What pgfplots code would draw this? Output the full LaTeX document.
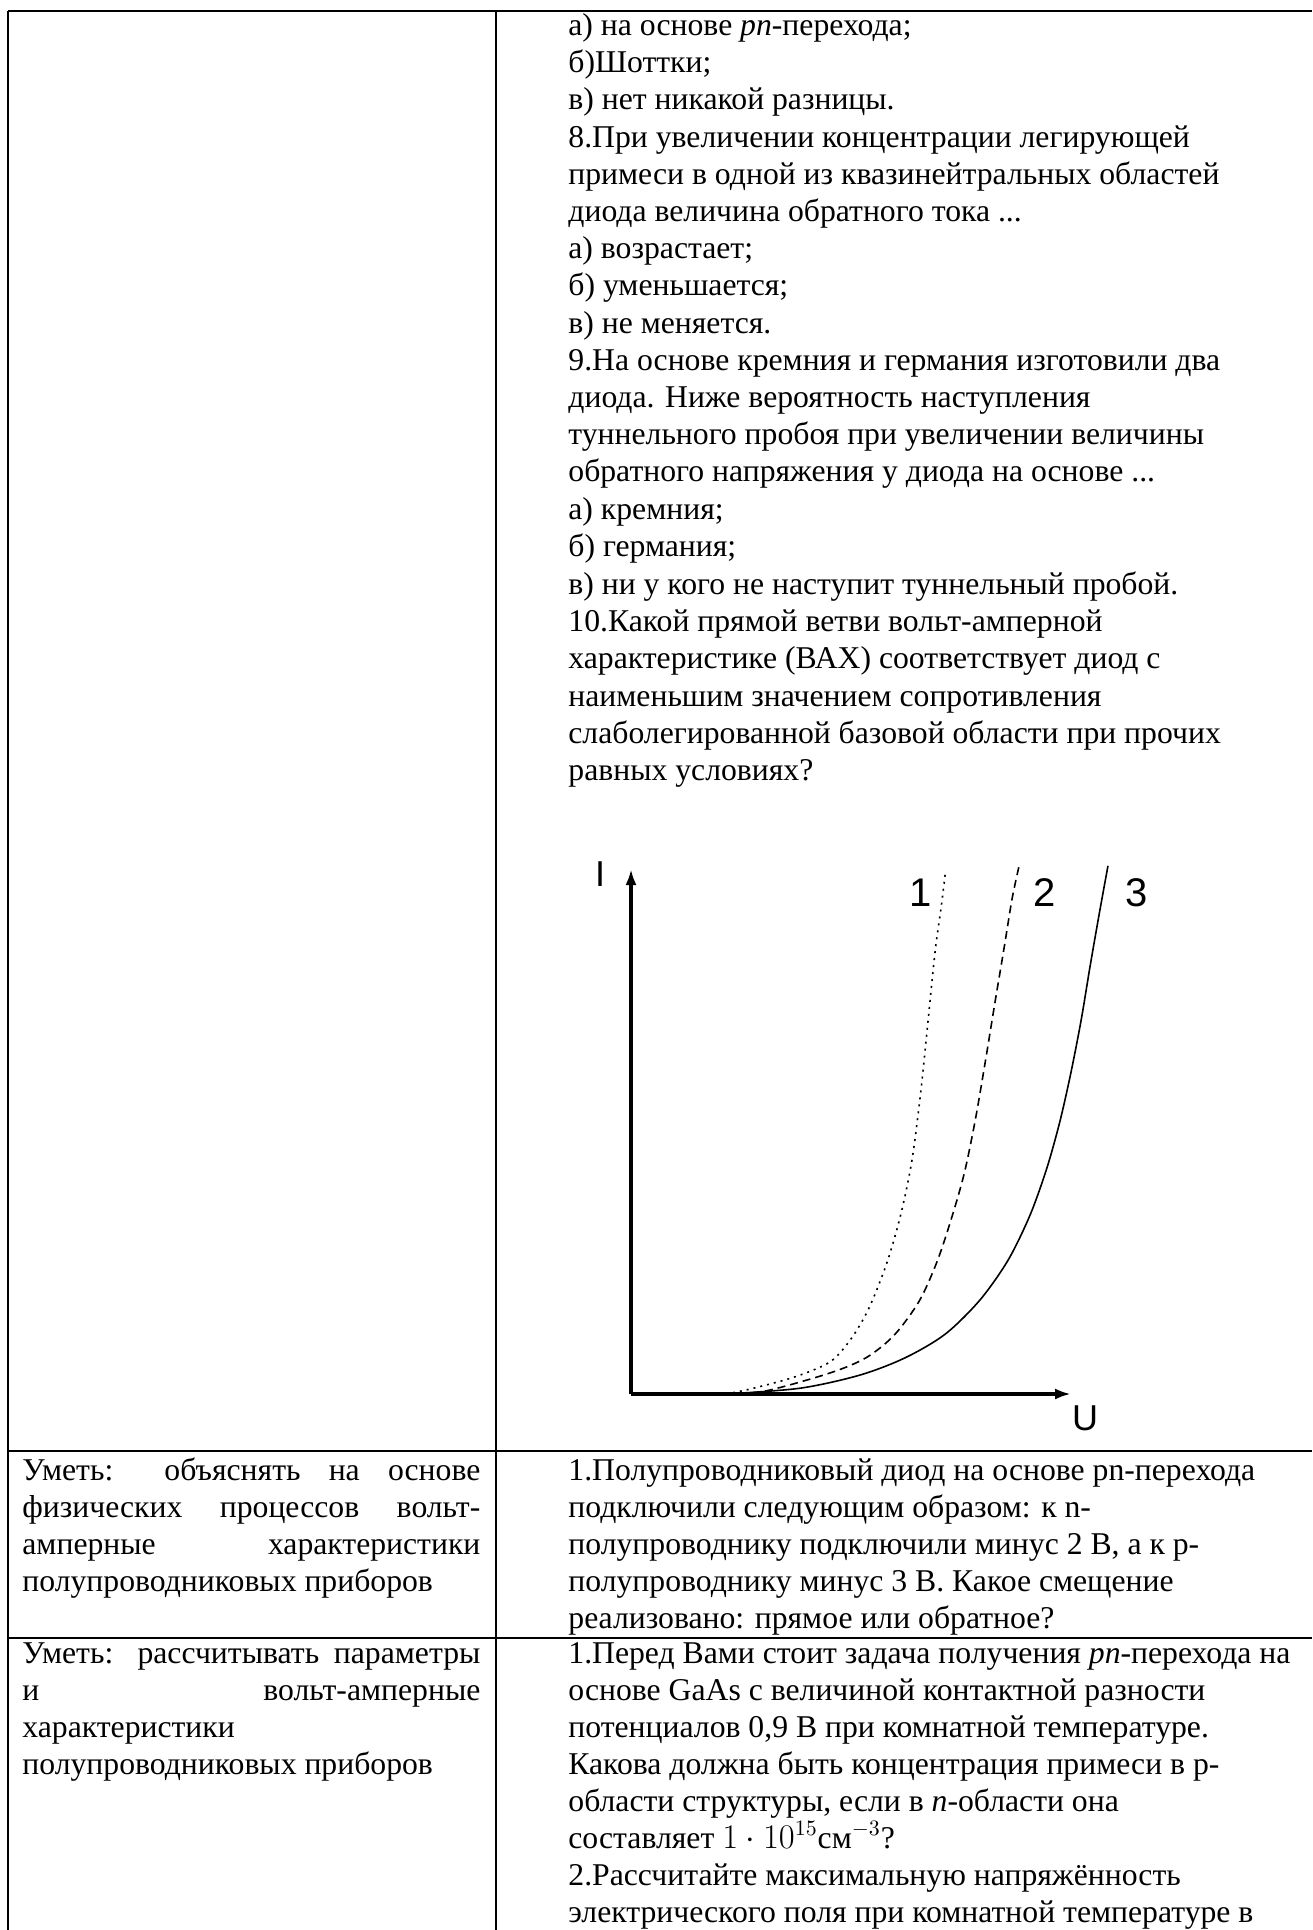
\documentclass[border=0pt]{standalone}
\usepackage{pgfplots}
\pgfplotsset{compat=1.18}
\usepackage{fontspec}
\setmainfont{Liberation Serif}
\newfontfamily\arial{Liberation Sans}
\usetikzlibrary{arrows.meta}

\begin{document}
\begin{tikzpicture}[
    txt/.style={anchor=base west, inner sep=0pt, font=\fontsize{15.85}{19}\selectfont},
    lab/.style={anchor=base, inner sep=0pt},
    rule/.style={line width=0.9pt}]
\begin{scope}[x=0.5pt, y=-0.5pt]
  \clip (0,0) rectangle (1312,1930);
  % table rules
  \draw[rule] (8,11) -- (1312,11);
  \draw[rule] (8,1451) -- (1312,1451);
  \draw[rule] (8,1638) -- (1312,1638);
  \draw[rule] (8,11) -- (8,1930);
  \draw[rule] (496,11) -- (496,1930);

  % row 1, right column
  \node[txt] at (568,36)  {а) на основе \textit{pn}-перехода;};
  \node[txt] at (568,73)  {б)Шоттки;};
  \node[txt] at (568,110) {в) нет никакой разницы.};
  \node[txt] at (568,148) {8.При увеличении концентрации легирующей};
  \node[txt] at (568,185) {примеси в одной из квазинейтральных областей};
  \node[txt] at (568,222) {диода величина обратного тока ...};
  \node[txt] at (568,259) {а) возрастает;};
  \node[txt] at (568,296) {б) уменьшается;};
  \node[txt] at (568,334) {в) не меняется.};
  \node[txt] at (568,371) {9.На основе кремния и германия изготовили два};
  \node[txt] at (568,408) {диода. Ниже вероятность наступления};
  \node[txt] at (568,445) {туннельного пробоя при увеличении величины};
  \node[txt] at (568,482) {обратного напряжения у диода на основе ...};
  \node[txt] at (568,520) {а) кремния;};
  \node[txt] at (568,557) {б) германия;};
  \node[txt] at (568,594) {в) ни у кого не наступит туннельный пробой.};
  \node[txt] at (568,631) {10.Какой прямой ветви вольт-амперной};
  \node[txt] at (568,668) {характеристике (ВАХ) соответствует диод с};
  \node[txt] at (568,706) {наименьшим значением сопротивления};
  \node[txt] at (568,743) {слаболегированной базовой области при прочих};
  \node[txt] at (568,780) {равных условиях?};

  % row 2
  \node[txt] at (22,1480) {\makebox[229pt][s]{Уметь: объяснять на основе}};
  \node[txt] at (22,1517) {\makebox[229pt][s]{физических процессов вольт-}};
  \node[txt] at (22,1554) {\makebox[229pt][s]{амперные характеристики}};
  \node[txt] at (22,1591) {полупроводниковых приборов};
  \node[txt] at (568,1480) {1.Полупроводниковый диод на основе pn-перехода};
  \node[txt] at (568,1517) {подключили следующим образом: к n-};
  \node[txt] at (568,1554) {полупроводнику подключили минус 2 В, а к p-};
  \node[txt] at (568,1591) {полупроводнику минус 3 В. Какое смещение};
  \node[txt] at (568,1628) {реализовано: прямое или обратное?};

  % row 3
  \node[txt] at (22,1663) {\makebox[229pt][s]{Уметь: рассчитывать параметры}};
  \node[txt] at (22,1700) {\makebox[229pt][s]{и вольт-амперные}};
  \node[txt] at (22,1737) {характеристики};
  \node[txt] at (22,1774) {полупроводниковых приборов};
  \node[txt] at (568,1663) {1.Перед Вами стоит задача получения \textit{pn}-перехода на};
  \node[txt] at (568,1700) {основе GaAs с величиной контактной разности};
  \node[txt] at (568,1737) {потенциалов 0,9 В при комнатной температуре.};
  \node[txt] at (568,1774) {Какова должна быть концентрация примеси в p-};
  \node[txt] at (568,1811) {области структуры, если в \textit{n}-области она};
  \node[txt] at (568,1848) {составляет $1\cdot10^{15}$см$^{-3}$?};
  \node[txt] at (568,1885) {2.Рассчитайте максимальную напряжённость};
  \node[txt] at (568,1922) {электрического поля при комнатной температуре в};

  % chart labels
  \node[lab, font=\arial\fontsize{18}{18}\selectfont] at (600,886) {I};
  \node[lab, font=\arial\fontsize{20}{20}\selectfont] at (921,906) {1};
  \node[lab, font=\arial\fontsize{20}{20}\selectfont] at (1045,906) {2};
  \node[lab, font=\arial\fontsize{20}{20}\selectfont] at (1137,906) {3};
  \node[lab, font=\arial\fontsize{18}{18}\selectfont] at (1085,1430) {U};
\end{scope}

\begin{axis}[
    at={(315.5pt,-697pt)}, anchor=south west,
    scale only axis, width=220pt, height=262.5pt,
    xmin=0, xmax=1, ymin=0, ymax=1,
    axis lines=left,
    axis line style={line width=1.6pt, -{Latex[length=8pt,width=5.5pt]}},
    ticks=none, clip=false]
  % curve 1, dotted
  \addplot[black, line width=0.8pt, dash pattern=on 1pt off 2.5pt, smooth, tension=0.5] coordinates {
    (0.216,0) (0.273,0.010) (0.370,0.032) (0.452,0.061) (0.500,0.105)
    (0.541,0.164) (0.582,0.251) (0.614,0.345) (0.639,0.448) (0.659,0.579)
    (0.675,0.710) (0.691,0.842) (0.705,0.928) (0.714,0.990)};
  % curve 2, dashed
  \addplot[black, line width=0.8pt, dash pattern=on 4pt off 2.5pt, smooth, tension=0.5] coordinates {
    (0.216,0) (0.307,0.006) (0.452,0.040) (0.534,0.069) (0.598,0.112)
    (0.655,0.177) (0.695,0.251) (0.727,0.331) (0.757,0.419) (0.782,0.520)
    (0.805,0.632) (0.827,0.745) (0.848,0.850) (0.866,0.943) (0.882,1.006)};
  % curve 3, solid
  \addplot[black, line width=0.8pt, smooth, tension=0.5] coordinates {
    (0.216,0) (0.384,0.011) (0.520,0.036) (0.623,0.069) (0.714,0.114)
    (0.793,0.179) (0.857,0.255) (0.907,0.341) (0.945,0.430) (0.975,0.520)
    (1.000,0.613) (1.023,0.712) (1.043,0.813) (1.064,0.914) (1.084,1.006)};
\end{axis}
\end{tikzpicture}
\end{document}
